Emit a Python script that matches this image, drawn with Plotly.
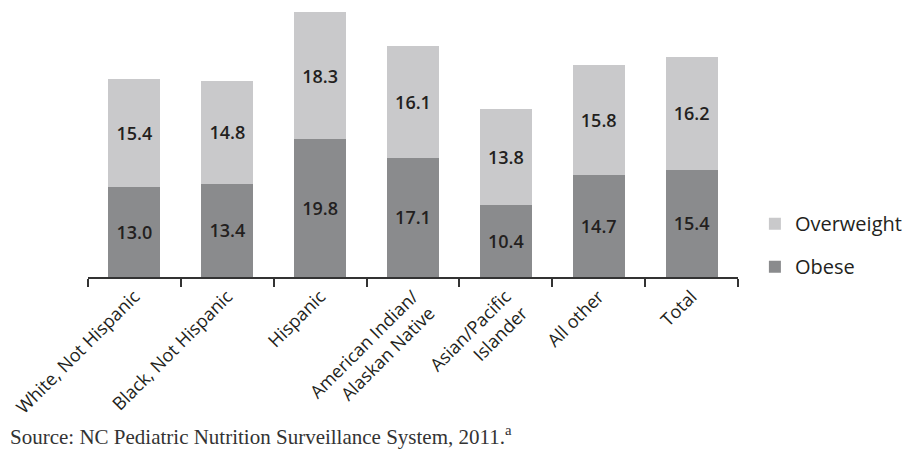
import plotly.graph_objects as go

categories = ["White, Not Hispanic", "Black, Not Hispanic", "Hispanic",
              "American Indian/<br>Alaskan Native", "Asian/Pacific<br>Islander",
              "All other", "Total"]
obese = [13.0, 13.4, 19.8, 17.1, 10.4, 14.7, 15.4]
overweight = [15.4, 14.8, 18.3, 16.1, 13.8, 15.8, 16.2]

fig = go.Figure()
fig.add_trace(go.Bar(
    x=categories, y=obese, name="Obese", legendgroup="b", legendrank=2,
    marker=dict(color="#8a8b8d", line=dict(width=0)),
    text=[f"{v:.1f}" for v in obese], textposition="inside",
    insidetextanchor="middle", textangle=0,
    textfont=dict(family="Open Sans", size=18, color="#231f20", weight=600),
))
fig.add_trace(go.Bar(
    x=categories, y=overweight, name="Overweight", legendgroup="a", legendrank=1,
    marker=dict(color="#c9c9cb", line=dict(width=0)),
    text=[f"{v:.1f}" for v in overweight], textposition="inside",
    insidetextanchor="middle", textangle=0,
    textfont=dict(family="Open Sans", size=18, color="#231f20", weight=600),
))

fig.update_layout(
    width=916, height=464,
    barmode="stack", bargap=0.44,
    plot_bgcolor="white", paper_bgcolor="white",
    margin=dict(l=88, r=178, t=0, b=187),
    font=dict(family="Open Sans", color="#231f20"),
    legend=dict(
        x=1.026, y=0.115, xanchor="left", yanchor="middle",
        traceorder="grouped", tracegroupgap=14,
        font=dict(family="Open Sans", size=20, color="#231f20"),
        itemwidth=30,
    ),
    xaxis=dict(
        showline=True, linecolor="#333333", linewidth=2,
        ticks="outside", ticklen=8, tickwidth=2, tickcolor="#333333",
        tickson="boundaries", tickangle=-45,
        tickfont=dict(family="Open Sans", size=18, color="#231f20"),
        range=[-0.5, 6.5],
    ),
    yaxis=dict(visible=False, range=[0, 39.8]),
    annotations=[dict(
        text="Source: NC Pediatric Nutrition Surveillance System, 2011.<sup>a</sup>",
        xref="paper", yref="paper", x=-80/650, y=-143/277,
        xanchor="left", yanchor="top", showarrow=False,
        font=dict(family="Liberation Serif", size=21, color="#333333"),
    )],
)

fig.write_html("out.html")
